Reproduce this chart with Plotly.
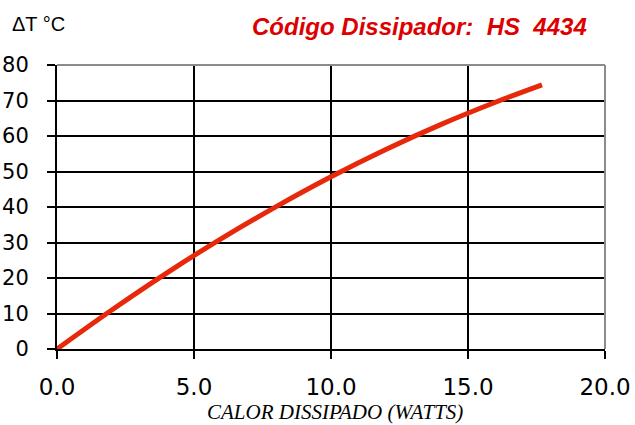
import plotly.graph_objects as go

# Data
calor_watts = [0, 2, 4, 6, 8, 10, 12, 14, 16, 17.7]
delta_t = [0, 11.0, 21.4, 31.1, 40.1, 48.5, 56.2, 63.2, 69.5, 74.4]

x_ticks = [0, 5, 10, 15, 20]
x_tick_labels = ["0.0", "5.0", "10.0", "15.0", "20.0"]
y_ticks = [0, 10, 20, 30, 40, 50, 60, 70, 80]

y_label = "ΔT °C"
title_text = "Código Dissipador:\u00a0\u00a0HS\u00a0\u00a04434"
x_title = "CALOR DISSIPADO (WATTS)"

fig = go.Figure()
fig.add_trace(go.Scatter(
    x=calor_watts, y=delta_t, mode="lines",
    line=dict(color="rgb(232,40,10)", width=5, shape="spline", smoothing=1.0),
    hoverinfo="skip", showlegend=False,
))

fig.update_layout(
    width=635, height=425,
    margin=dict(l=57, r=30, t=65, b=76),
    paper_bgcolor="white", plot_bgcolor="white",
    showlegend=False,
    xaxis=dict(
        range=[0, 20], tickvals=x_ticks, ticktext=x_tick_labels,
        showgrid=True, gridcolor="black", gridwidth=2,
        showline=True, linecolor="black", linewidth=2,
        ticks="outside", ticklen=8, tickwidth=2, tickcolor="black",
        tickfont=dict(family="DejaVu Sans", size=23, color="black"),
        ticklabelstandoff=8, automargin=False,
        zeroline=False, fixedrange=True,
    ),
    yaxis=dict(
        range=[0, 80], tickvals=y_ticks,
        showgrid=True, gridcolor="black", gridwidth=2,
        showline=True, linecolor="black", linewidth=2,
        ticks="outside", ticklen=8, tickwidth=2, tickcolor="black",
        tickfont=dict(family="DejaVu Sans", size=21, color="black"),
        ticklabelstandoff=14, automargin=False,
        zeroline=False, fixedrange=True,
    ),
    shapes=[
        dict(type="line", xref="paper", yref="paper", x0=0, x1=1, y0=1, y1=1,
             line=dict(color="rgb(140,140,140)", width=2), layer="above"),
        dict(type="line", xref="paper", yref="paper", x0=1, x1=1, y0=0, y1=1,
             line=dict(color="rgb(140,140,140)", width=2), layer="above"),
    ],
    annotations=[
        dict(text=y_label, xref="paper", yref="paper", x=-0.086, y=1.143,
             xanchor="left", yanchor="middle", showarrow=False,
             font=dict(family="Liberation Sans", size=20, color="black")),
        dict(text="<b><i>" + title_text + "</i></b>", xref="paper", yref="paper",
             x=0.662, y=1.136, xanchor="center", yanchor="middle", showarrow=False,
             font=dict(family="Liberation Sans", size=24, color="rgb(221,0,0)")),
        dict(text="<i>" + x_title + "</i>", xref="paper", yref="paper",
             x=0.507, y=-0.222, xanchor="center", yanchor="middle", showarrow=False,
             font=dict(family="Liberation Serif", size=21, color="black")),
    ],
)

fig.write_html(
    "out.html",
    config={"displayModeBar": False},
    post_script="document.body.style.margin='0';document.body.style.padding='0';",
)
